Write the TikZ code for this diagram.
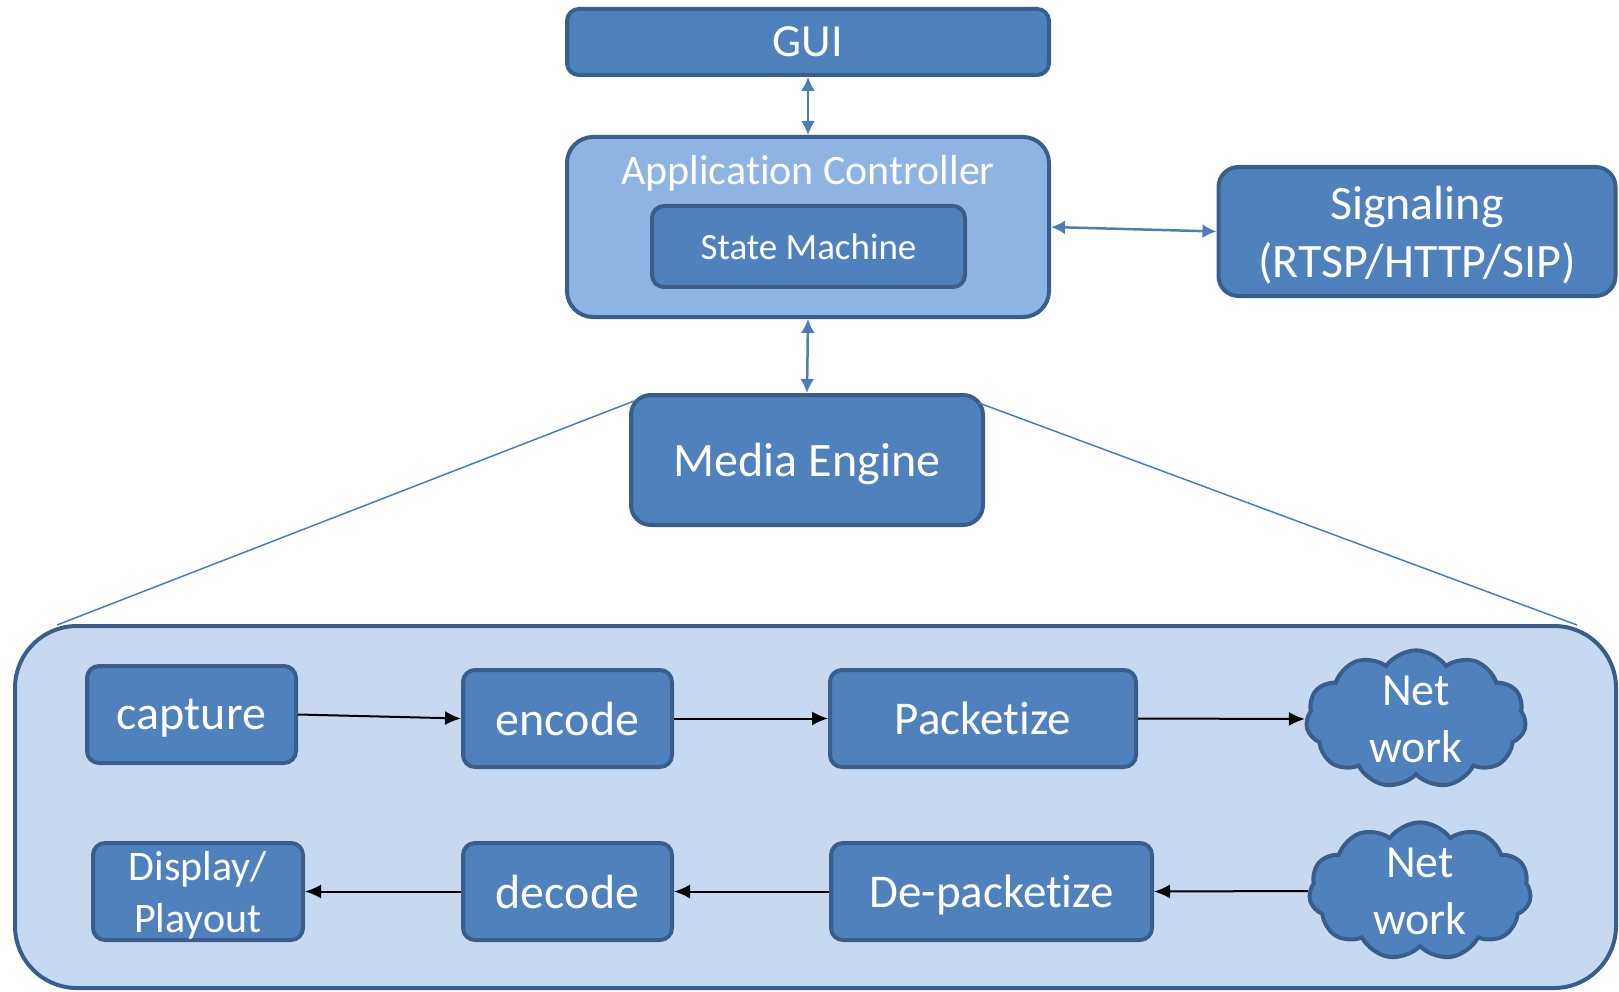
\documentclass[tikz,border=0pt]{standalone}
\usepackage{fontspec}
\setmainfont{Carlito}[Ligatures=NoCommon]
\usetikzlibrary{shapes.symbols,arrows.meta}
\definecolor{boxfill}{HTML}{4F81BD}
\definecolor{boxedge}{HTML}{3A5E8C}
\definecolor{ctrlfill}{HTML}{8EB4E3}
\definecolor{enginebg}{HTML}{C6D9F1}
\definecolor{linkblue}{HTML}{4A7EBB}
\tikzset{
  block/.style={draw=boxedge, fill=boxfill, line width=4pt, rounded corners=12pt,
    text=white, align=center, inner sep=0pt, text depth=0pt},
  cloudbox/.style={cloud, cloud puffs=11, cloud puff arc=110, cloud ignores aspect,
    draw=boxedge, fill=boxfill, line width=4pt, text=white, align=center, inner sep=0pt},
  bluelink/.style={draw=linkblue, line width=2.5pt, {Latex[length=14pt,width=14pt]}-{Latex[length=14pt,width=14pt]}},
  flow/.style={draw=black, line width=2pt, -{Latex[length=16pt,width=14pt]}},
  zoomline/.style={draw=linkblue, line width=1.5pt},
}
\begin{document}
\begin{tikzpicture}[x=1pt,y=-1pt]
\useasboundingbox (0,0) rectangle (1619,992);

% top layer
\node[block, minimum width=482pt, minimum height=66pt, font=\fontsize{46}{50}\selectfont] (gui) at (808,42) {GUI};
\node[block, fill=ctrlfill, rounded corners=26pt, minimum width=482pt, minimum height=180pt] (ctrl) at (808,227) {};
\node[text=white, font=\fontsize{42}{45}\selectfont] (ctrltitle) at (808,173) {Application Controller};
\node[block, minimum width=313pt, minimum height=81pt, font=\fontsize{37}{40}\selectfont] (sm) at (808.5,246.5) {State Machine};
\node[block, rounded corners=20pt, minimum width=397pt, minimum height=129pt, font=\fontsize{48}{58}\selectfont] (sig) at (1417,231.5) {Signaling\\(RTSP/HTTP/SIP)};
\node[block, rounded corners=20pt, minimum width=352pt, minimum height=130pt, font=\fontsize{48}{50}\selectfont] (me) at (807,460) {Media Engine};

% zoom lines from the media engine to its detail panel
\coordinate (zl1) at (634,401);
\coordinate (zl2) at (57,625);
\coordinate (zr1) at (979,403);
\coordinate (zr2) at (1577,625);
\draw[zoomline] (zl1) -- (zl2);
\draw[zoomline] (zr1) -- (zr2);

% media engine detail panel
\node[draw=boxedge, fill=enginebg, line width=4pt, rounded corners=62pt,
  minimum width=1601pt, minimum height=362pt] (panel) at (815.5,807) {};

\node[block, minimum width=209pt, minimum height=97pt, font=\fontsize{48}{50}\selectfont] (cap) at (191.5,714.5) {capture};
\node[block, minimum width=209pt, minimum height=97pt, font=\fontsize{48}{50}\selectfont] (enc) at (567.5,718.5) {encode};
\node[block, minimum width=306pt, minimum height=97pt, font=\fontsize{47}{50}\selectfont] (pkt) at (983,718.5) {Packetize};
\node[cloudbox, minimum width=220pt, minimum height=132pt, font=\fontsize{46}{57}\selectfont] (net1) at (1416,719) {Net\\work};

\node[block, minimum width=210pt, minimum height=97pt, font=\fontsize{42}{52}\selectfont] (disp) at (198,891.5) {Display/\\Playout};
\node[block, minimum width=209pt, minimum height=97pt, font=\fontsize{48}{50}\selectfont] (dec) at (567.5,891.5) {decode};
\node[block, minimum width=321pt, minimum height=97pt, font=\fontsize{47}{50}\selectfont] (depkt) at (991.5,891.5) {De-packetize};
\node[cloudbox, minimum width=222pt, minimum height=134pt, font=\fontsize{46}{57}\selectfont] (net2) at (1420,891) {Net\\work};

% control links
\draw[bluelink] (gui.south) -- (ctrl.north);
\draw[bluelink] (ctrl.south) -- (me.north);
\draw[bluelink] (ctrl.east) -- (sig.west);

% data flow
\draw[flow] (cap.east) -- (enc.west);
\draw[flow] (enc.east) -- (pkt.west);
\draw[flow] (pkt.east) -- (net1.west);
\draw[flow] (net2.west) -- (depkt.east);
\draw[flow] (depkt.west) -- (dec.east);
\draw[flow] (dec.west) -- (disp.east);
\end{tikzpicture}
\end{document}
